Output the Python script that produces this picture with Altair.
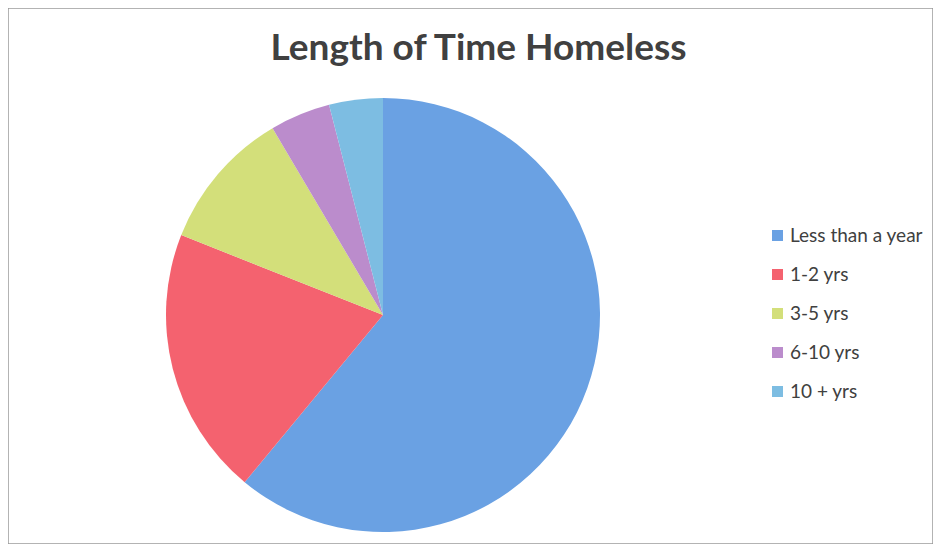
import altair as alt
import pandas as pd

categories = ["Less than a year", "1-2 yrs", "3-5 yrs", "6-10 yrs", "10 + yrs"]
shares = [61.0, 20.0, 10.5, 4.5, 4.0]
colors = ["#6aa1e3", "#f4626f", "#d3df7a", "#bb8ccc", "#7dbde2"]

df = pd.DataFrame({"category": categories, "share": shares, "order": list(range(len(categories)))})

pie = alt.Chart(df).mark_arc(stroke=None).encode(
    theta=alt.Theta("share:Q", stack=True),
    order=alt.Order("order:Q"),
    color=alt.Color(
        "category:N",
        sort=categories,
        scale=alt.Scale(domain=categories, range=colors),
        legend=alt.Legend(
            title=None,
            orient="none",
            legendX=760,
            legendY=218,
            symbolType="square",
            symbolSize=121,
            symbolStrokeWidth=0,
            labelFontSize=19,
            labelFont="Lato",
            labelColor="#404040",
            rowPadding=19,
            labelOffset=3,
        ),
    ),
    x=alt.value(375),
    y=alt.value(307),
    radius=alt.value(217),
)

chart = pie.properties(
    width=925,
    height=536,
    autosize=alt.AutoSizeParams(type="none"),
    padding=0,
    title=alt.TitleParams(
        "Length of Time Homeless",
        font="Lato",
        fontSize=37,
        fontWeight="bold",
        color="#404040",
        anchor="middle",
        offset=-60,
        dx=8,
    ),
).configure_view(stroke="#9a9a9a", strokeWidth=1.5)

chart.save("out.html", embed_options={"renderer": "svg", "actions": False})
